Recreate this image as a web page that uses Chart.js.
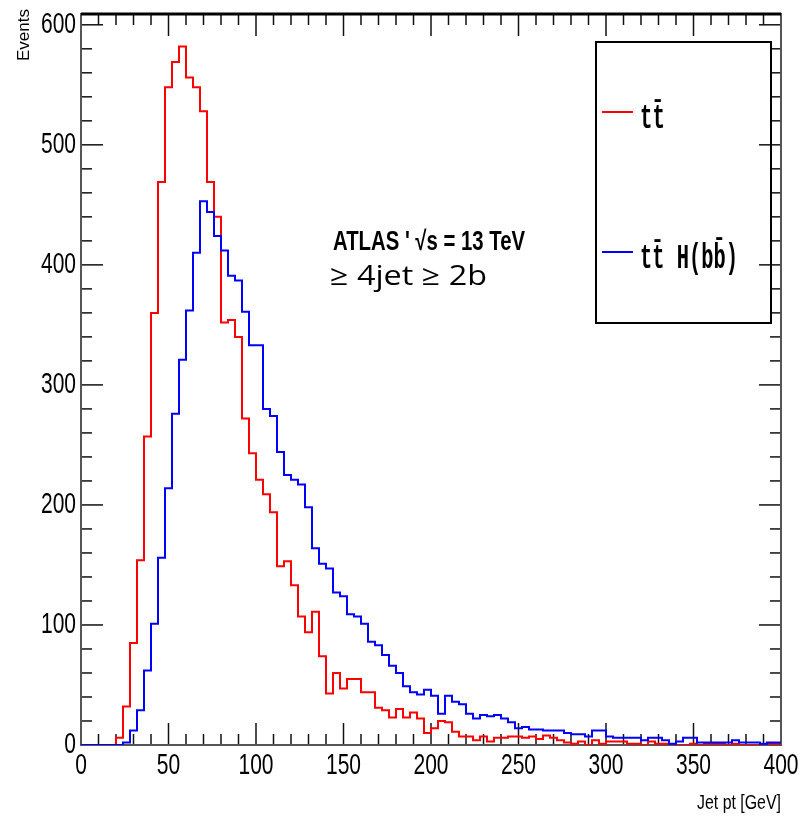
<!DOCTYPE html>
<html lang="en">
  <head>
    <meta charset="UTF-8">
    <title>Jet pt</title>
    <style>
      body { margin: 0; background: #fff; }
    </style>
  </head>
  <body>
    <canvas id="jetpt" width="805" height="818"></canvas>
    <script src="https://cdn.jsdelivr.net/npm/chart.js@4.4.1/dist/chart.umd.min.js"></script>
    <script>

      // 100 bins of 4 GeV between 0 and 400 GeV
      var binWidth = 4;
      var xRange = [0, 400];
      var yRange = [0, 609];
      var xTickValues = [0, 50, 100, 150, 200, 250, 300, 350, 400];
      var yTickValues = [0, 100, 200, 300, 400, 500, 600];

      var labels = ['tt\u0304', 'tt\u0304 H(bb\u0304)'];

      var ttbar = [
        0, 0, 0, 0, 0, 0, 6, 32, 85, 154,
        257, 360, 469, 548, 569, 582, 556, 548, 528, 469,
        440, 352, 354, 340, 272, 243, 221, 209, 194, 149,
        153, 133, 107, 94, 111, 74, 43, 60, 47, 55,
        55, 44, 44, 31, 29, 23, 30, 23, 27, 22,
        10, 14, 20, 19, 11, 7, 7, 4, 7, 3,
        6, 6, 7, 7, 6, 7, 5, 8, 6, 4,
        2, 1, 3, 0, 4, 1, 3, 3, 3, 1,
        1, 0, 3, 1, 1, 0, 0, 0, 1, 0,
        1, 1, 1, 0, 1, 0, 0, 0, 0, 1
      ];

      var ttH = [
        0, 0, 0, 0, 0, 0, 0, 2, 12, 29,
        62, 101, 156, 214, 276, 321, 362, 410, 453, 444,
        424, 412, 391, 387, 361, 333, 333, 280, 274, 244,
        225, 221, 217, 198, 164, 151, 147, 127, 124, 109,
        107, 101, 86, 83, 75, 66, 60, 49, 44, 42,
        46, 41, 26, 41, 36, 34, 26, 22, 25, 24,
        25, 22, 19, 14, 15, 13, 13, 12, 12, 12,
        10, 9, 9, 7, 12, 12, 7, 6, 6, 6,
        6, 4, 6, 6, 4, 1, 3, 6, 6, 2,
        2, 2, 2, 2, 4, 2, 2, 2, 1, 2
      ];

      // histogram outline: one point per lower bin edge, plus the last upper edge
      function steps(values) {
        var pts = values.map(function (v, i) { return { x: i * binWidth, y: v }; });
        pts.push({ x: values.length * binWidth, y: values[values.length - 1] });
        return pts;
      }

      var sans = '"Liberation Sans", Arial, sans-serif';

      // text squeezed/stretched like the (vertically stretched) ROOT picture
      function putText(ctx, text, x, y, font, width, sy, align) {
        ctx.save();
        ctx.font = font;
        var sx = width ? width / ctx.measureText(text).width : 1;
        ctx.translate(x, y);
        ctx.scale(sx, sy);
        ctx.textAlign = align;
        ctx.textBaseline = 'middle';
        ctx.fillStyle = '#000';
        ctx.fillText(text, 0, 0);
        ctx.restore();
      }

      // ROOT style frame with ticks on all four sides, pointing inwards
      var rootFrame = {
        id: 'rootFrame',
        beforeDatasetsDraw: function (chart) {
          var ctx = chart.ctx, a = chart.chartArea;
          var xs = chart.scales.x, ys = chart.scales.y;
          function seg(x1, y1, x2, y2) {
            ctx.beginPath(); ctx.moveTo(x1, y1); ctx.lineTo(x2, y2); ctx.stroke();
          }
          ctx.save();
          ctx.strokeStyle = '#111';
          ctx.lineWidth = 1.5;
          var xStep = (xTickValues[1] - xTickValues[0]) / 5;
          for (var v = xs.min; v <= xs.max; v += xStep) {
            var px = xs.getPixelForValue(v);
            var len = (xTickValues.indexOf(v) >= 0) ? 22 : 11;
            seg(px, a.bottom, px, a.bottom - len);
            seg(px, a.top, px, a.top + len);
          }
          var yStep = (yTickValues[1] - yTickValues[0]) / 5;
          for (v = ys.min; v <= ys.max; v += yStep) {
            var py = ys.getPixelForValue(v);
            var l = (yTickValues.indexOf(v) >= 0) ? 22 : 11;
            seg(a.left, py, a.left + l, py);
            seg(a.right, py, a.right - l, py);
          }
          ctx.lineWidth = 2;
          ctx.strokeStyle = '#555';
          ctx.strokeRect(a.left, a.top, a.right - a.left, a.bottom - a.top);
          ctx.lineWidth = 3;
          ctx.strokeStyle = '#000';
          seg(a.left, a.top, a.right, a.top);

          // tick labels from the scales
          var tickFont = '21px ' + sans;
          xs.ticks.forEach(function (t) {
            putText(ctx, String(t.value), xs.getPixelForValue(t.value), a.bottom + 21, tickFont, 0, 1.4, 'center');
          });
          ys.ticks.forEach(function (t) {
            putText(ctx, String(t.value), a.left - 5, ys.getPixelForValue(t.value), tickFont, 0, 1.4, 'right');
          });
          ctx.restore();
        },
        afterDraw: function (chart) {
          var ctx = chart.ctx, a = chart.chartArea;
          ctx.save();
          // legend box
          ctx.lineWidth = 2;
          ctx.strokeStyle = '#000';
          ctx.strokeRect(596, 42, 175, 281);
          var rows = [112, 252];
          var widths = [25, 98];
          chart.data.datasets.forEach(function (ds, i) {
            ctx.strokeStyle = ds.borderColor;
            ctx.lineWidth = 2;
            ctx.beginPath(); ctx.moveTo(602, rows[i]); ctx.lineTo(633, rows[i]); ctx.stroke();
            putText(ctx, ds.label, 640, rows[i] + 7, 'bold 18px "Liberation Mono", "DejaVu Sans Mono", monospace', widths[i], 1.9, 'left');
          });
          // annotation
          putText(ctx, 'ATLAS \' \u221As = 13 TeV', 333, 243, 'bold 20px ' + sans, 192, 1.35, 'left');
          putText(ctx, '\u2265 4jet \u2265 2b', 330, 277, '25px "Open Sans", sans-serif', 157, 1.12, 'left');
          // axis titles
          putText(ctx, 'Jet pt [GeV]', a.right, 803, '15px ' + sans, 84, 1.35, 'right');
          ctx.save();
          ctx.translate(24, 9);
          ctx.rotate(-Math.PI / 2);
          putText(ctx, 'Events', 0, 0, '15px ' + sans, 52, 1.1, 'right');
          ctx.restore();
          ctx.restore();
        }
      };

      new Chart(document.getElementById('jetpt'), {
        type: 'line',
        data: {
          datasets: [{
            label: labels[0],
            data: steps(ttbar),
            borderColor: '#ff0000',
            borderWidth: 2,
            stepped: 'after',
            pointRadius: 0,
            fill: false,
            order: 1
          }, {
            label: labels[1],
            data: steps(ttH),
            borderColor: '#0000ff',
            borderWidth: 2,
            stepped: 'after',
            pointRadius: 0,
            fill: false,
            order: 0
          }]
        },
        options: {
          responsive: false,
          animation: false,
          devicePixelRatio: 1,
          layout: { padding: { top: 14, right: 24, left: 0, bottom: 0 } },
          scales: {
            x: {
              type: 'linear',
              min: xRange[0],
              max: xRange[1],
              afterBuildTicks: function (s) { s.ticks = xTickValues.map(function (v) { return { value: v }; }); },
              afterFit: function (s) { s.height = 73; },
              grid: { display: false },
              border: { display: false },
              ticks: { display: false }
            },
            y: {
              min: yRange[0],
              max: yRange[1],
              afterBuildTicks: function (s) { s.ticks = yTickValues.map(function (v) { return { value: v }; }); },
              afterFit: function (s) { s.width = 81; },
              grid: { display: false },
              border: { display: false },
              ticks: { display: false }
            }
          },
          plugins: {
            legend: { display: false },
            tooltip: { enabled: false }
          }
        },
        plugins: [rootFrame]
      });
    </script>
  </body>
</html>
